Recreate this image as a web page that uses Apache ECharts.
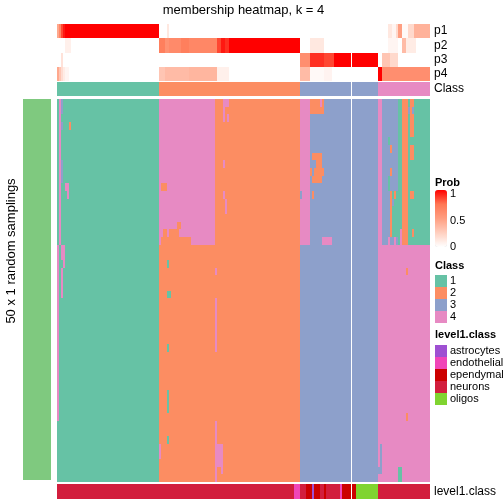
<!DOCTYPE html>
<html><head><meta charset="utf-8">
<script src="https://cdn.jsdelivr.net/npm/echarts@6/dist/echarts.min.js"></script>
<style>html,body{margin:0;padding:0;background:#fff}#c{width:504px;height:504px}</style>
</head><body><div id="c"></div>
<script>
// ---------------- data ----------------
const nCols = 186;          // samples (columns)
const nRows = 50;           // random samplings (rows)
const trackNames = ['p1', 'p2', 'p3', 'p4'];
const classNames = ['1', '2', '3', '4'];
const classColors = ['#66C2A5', '#FC8D62', '#8DA0CB', '#E78AC3'];
const levelNames = ['astrocytes', 'endothelial', 'ependymal', 'neurons', 'oligos'];
const levelColors = ['#9E50D2', '#F045B8', '#CC0000', '#D21E3D', '#80D430'];
const sideColor = '#7FC97F';
const sideLabel = 'top 946 rows';
const rowTitle = '50 x 1 random samplings';
const mainTitle = 'membership heatmap, k = 4';
const probTicks = [0, 0.5, 1];

// consensus class per column, as runs [class, count]
const classRuns = [[1, 51], [2, 70], [3, 39], [4, 26]];
// level1.class per column, as runs [levelIndex, count]
const levelRuns = [[3, 118], [1, 3], [3, 3], [2, 3], [0, 1], [2, 3], [3, 2], [2, 1], [3, 7], [1, 1], [2, 7], [4, 11], [3, 26]];
// membership probabilities per column, as runs [value, count]
const p1Runs = [[0.45, 1], [0.65, 1], [0.85, 1], [0.95, 1], [1, 47],
  [0, 4], [0.12, 1], [0, 65],
  [0, 39],
  [0, 5], [0.12, 2], [0.05, 2], [0.2, 1], [0.5, 2], [0.03, 3], [0.2, 3], [0.4, 8]];
const p2Runs = [[0, 4], [0.08, 3], [0, 44],
  [0.7, 3], [0.58, 2], [0.63, 6], [0.7, 4], [0.65, 14], [0.85, 2], [0.95, 2], [0.9, 2], [1, 35],
  [0, 5], [0.12, 7], [0, 27],
  [0, 5], [0.05, 5], [0, 2], [0.35, 2], [0.1, 5], [0, 7]];
const p3Runs = [[0, 2], [0.15, 1], [0, 48],
  [0, 70],
  [0.6, 5], [0.9, 7], [0.85, 5], [1, 22],
  [0, 2], [0.3, 4], [0.2, 4], [0, 16]];
const p4Runs = [[0.45, 1], [0.3, 1], [0.18, 1], [0.1, 1], [0.05, 2], [0, 45],
  [0.3, 3], [0.35, 12], [0.38, 14], [0.08, 6], [0, 35],
  [0.35, 5], [0.03, 7], [0.06, 4], [0, 23],
  [1, 2], [0.6, 24]];
// per-sampling class assignments that differ from the consensus:
// [firstCol, lastCol, firstRow, lastRow, class]
const mainBlocks = [
  [1, 1, 0, 18, 4], [2, 2, 0, 1, 3], [2, 2, 3, 3, 3], [2, 2, 8, 10, 3], [6, 6, 3, 3, 2], [4, 5, 11, 11, 4], [5, 5, 12, 12, 4],
  [0, 0, 19, 41, 4], [2, 3, 19, 20, 4], [3, 3, 21, 21, 4], [2, 2, 22, 25, 4],
  [51, 78, 0, 18, 4], [52, 54, 11, 11, 2], [60, 61, 16, 16, 2], [53, 54, 17, 17, 2], [56, 60, 17, 17, 2], [52, 66, 18, 18, 2],
  [83, 85, 0, 0, 4], [83, 83, 1, 2, 4], [85, 85, 2, 2, 4], [83, 83, 8, 8, 4], [83, 83, 12, 12, 4], [84, 84, 13, 14, 4], [79, 79, 22, 22, 4],
  [55, 55, 21, 21, 1], [55, 56, 25, 25, 1], [55, 55, 32, 32, 1], [55, 55, 38, 40, 1], [55, 55, 44, 44, 1],
  [79, 79, 26, 32, 4], [79, 79, 42, 49, 4], [79, 82, 45, 47, 4], [82, 82, 48, 48, 4], [51, 51, 45, 46, 4],
  [121, 125, 0, 18, 4], [126, 132, 0, 1, 2], [131, 131, 0, 0, 4], [127, 131, 7, 7, 2], [129, 131, 8, 8, 2], [126, 126, 9, 9, 2],
  [128, 132, 9, 9, 2], [127, 131, 10, 10, 2], [127, 127, 12, 12, 2], [121, 121, 12, 12, 3], [132, 136, 18, 18, 4],
  [162, 169, 0, 18, 3], [170, 171, 0, 18, 1], [172, 174, 0, 18, 2], [175, 185, 0, 18, 1], [176, 177, 0, 7, 2], [176, 177, 5, 5, 1],
  [175, 175, 1, 1, 3], [177, 177, 1, 1, 3], [176, 177, 12, 12, 2], [177, 177, 17, 17, 2],
  [165, 165, 5, 5, 1], [166, 166, 6, 6, 2], [166, 166, 9, 9, 2], [165, 165, 10, 11, 1], [166, 166, 12, 17, 2], [167, 169, 12, 17, 1],
  [167, 167, 13, 13, 3], [168, 168, 12, 12, 2], [171, 171, 17, 18, 4], [168, 168, 18, 18, 4], [165, 165, 18, 18, 4],
  [174, 174, 22, 22, 2], [174, 174, 41, 41, 2], [161, 161, 45, 47, 3], [160, 161, 48, 48, 3], [170, 171, 48, 49, 1]
];
const gapAfterCol = 146;   // column slice gap inside class 3

// ---------------- build ----------------
function expandRuns(runs) { const out = []; runs.forEach(([v, n]) => { for (let i = 0; i < n; i++) out.push(v); }); return out; }
const colIdx = Array.from({ length: nCols }, (_, i) => i);
const rowIdx = Array.from({ length: nRows }, (_, i) => i);
const colClass = expandRuns(classRuns);
const colLevel = expandRuns(levelRuns);
const pVals = [p1Runs, p2Runs, p3Runs, p4Runs].map(expandRuns);

const probData = [];
pVals.forEach((arr, t) => arr.forEach((v, c) => probData.push([c, t, v])));
const classData = colClass.map((k, c) => [c, 0, k]);
const levelData = colLevel.map((k, c) => [c, 0, k]);
const cells = rowIdx.map(() => colClass.slice());
mainBlocks.forEach(([c0, c1, r0, r1, k]) => { for (let r = r0; r <= r1; r++) for (let c = c0; c <= c1; c++) cells[r][c] = k; });
const mainData = [];
cells.forEach((row, r) => row.forEach((k, c) => mainData.push([c, r, k])));

const FONT = 'Liberation Sans, Arial, Helvetica, sans-serif';
const hidden = { show: false };
function catX(gi, extra) { return Object.assign({ type: 'category', gridIndex: gi, data: colIdx, axisLine: hidden, axisTick: hidden, axisLabel: hidden, splitLine: hidden }, extra || {}); }
function catY(gi, data, showLbl) {
  return { type: 'category', gridIndex: gi, data: data, inverse: true, position: 'right', axisLine: hidden, axisTick: hidden, splitLine: hidden,
    axisLabel: { show: showLbl, interval: 0, color: '#000', fontSize: 12, fontFamily: FONT, margin: 4 } };
}
// snap to whole pixels consistently (normalise float noise first)
function snap(v) { return Math.round(Math.round(v * 1000) / 1000); }
// cell renderer: snaps cell edges to whole pixels so neighbouring cells meet without seams
function renderCell(params, api) {
  const p = api.coord([api.value(0), api.value(1)]);
  const s = api.size([1, 1]);
  const x0 = snap(p[0] - s[0] / 2), x1 = snap(p[0] + s[0] / 2);
  const y0 = snap(p[1] - s[1] / 2), y1 = snap(p[1] + s[1] / 2);
  return { type: 'rect', shape: { x: x0, y: y0, width: x1 - x0, height: y1 - y0 }, style: { fill: api.visual('color') } };
}
// white gap between column slices, drawn after the given column
function renderGap(params, api) {
  const cs = params.coordSys;
  const p = api.coord([api.value(0), 0]);
  const s = api.size([1, 1]);
  const x = Math.floor(p[0] + s[0] / 2);
  return { type: 'rect', shape: { x: x, y: cs.y, width: 1, height: cs.height }, style: { fill: '#fff' } };
}
function hm(xi, data) {
  return { type: 'custom', renderItem: renderCell, xAxisIndex: xi, yAxisIndex: xi, data: data, encode: { x: 0, y: 1 },
    silent: true, progressive: 0, animation: false, z: 2 };
}
function gap(xi) {
  return { type: 'custom', renderItem: renderGap, xAxisIndex: xi, yAxisIndex: xi, data: [[gapAfterCol, 0]], encode: { x: 0, y: 1 },
    silent: true, animation: false, z: 3 };
}

const option = {
  animation: false,
  textStyle: { fontFamily: FONT },
  title: [
    { text: 'Prob', left: 435, top: 177, padding: 0, textStyle: { fontSize: 11, fontWeight: 'bold', color: '#000', fontFamily: FONT } },
    { text: 'Class', left: 435, top: 260, padding: 0, textStyle: { fontSize: 11, fontWeight: 'bold', color: '#000', fontFamily: FONT } },
    { text: 'level1.class', left: 435, top: 329, padding: 0, textStyle: { fontSize: 11, fontWeight: 'bold', color: '#000', fontFamily: FONT } }
  ],
  grid: [
    { left: 57, top: 24, width: 373, height: 57 },
    { left: 57, top: 82, width: 373, height: 14 },
    { left: 57, top: 99, width: 373, height: 383 },
    { left: 57, top: 484, width: 373, height: 15 },
    { left: 23, top: 99, width: 28, height: 381 },
    { left: 435, top: 194, width: 12, height: 53 }
  ],
  xAxis: [
    catX(0, { position: 'top', name: mainTitle, nameLocation: 'middle', nameGap: 7, nameTextStyle: { fontSize: 13, color: '#000', fontFamily: FONT } }),
    catX(1), catX(2), catX(3),
    { type: 'category', gridIndex: 4, data: [0], show: false },
    { type: 'value', gridIndex: 5, show: false, min: 0, max: 1 }
  ],
  yAxis: [
    catY(0, trackNames, true),
    catY(1, ['Class'], true),
    catY(2, rowIdx, false),
    catY(3, ['level1.class'], true),
    { type: 'category', gridIndex: 4, data: [0], show: false },
    { type: 'value', gridIndex: 5, position: 'right', min: probTicks[0], max: probTicks[2], interval: probTicks[1],
      axisLine: hidden, axisTick: hidden, splitLine: hidden,
      axisLabel: { color: '#000', fontSize: 11, fontFamily: FONT, margin: 3 } }
  ],
  visualMap: [
    { type: 'continuous', seriesIndex: 0, dimension: 2, min: 0, max: 1, show: true, calculable: false, left: 435, top: 190, padding: 0,
      itemWidth: 12, itemHeight: 57, text: null, hoverLink: false,
      inRange: { color: ['#FFFFFF', '#FFCFBF', '#FF9E81', '#FF7754', '#FF0000'] } },
    { type: 'piecewise', seriesIndex: [1, 2], dimension: 2, show: true, left: 435, top: 275, padding: 0, orient: 'vertical', inverse: true, align: 'left',
      itemWidth: 12, itemHeight: 12, itemGap: 0, itemSymbol: 'rect', textGap: 3, selectedMode: false, hoverLink: false,
      textStyle: { fontSize: 11, color: '#000', fontFamily: FONT },
      pieces: classNames.map((n, i) => ({ value: i + 1, label: n, color: classColors[i] })) },
    { type: 'piecewise', seriesIndex: [3], dimension: 2, show: true, left: 435, top: 345, padding: 0, orient: 'vertical', inverse: true, align: 'left',
      itemWidth: 12, itemHeight: 12, itemGap: 0, itemSymbol: 'rect', textGap: 3, selectedMode: false, hoverLink: false,
      textStyle: { fontSize: 11, color: '#000', fontFamily: FONT },
      pieces: levelNames.map((n, i) => ({ value: i, label: n, color: levelColors[i] })) },
    { type: 'piecewise', seriesIndex: [4], dimension: 2, show: false, pieces: [{ value: 1, color: sideColor }] }
  ],
  graphic: [
    { type: 'text', x: 11, y: 251, rotation: Math.PI / 2, silent: true,
      style: { text: rowTitle, fontSize: 13, fontFamily: FONT, fill: '#000', align: 'center', verticalAlign: 'middle' } },
    { type: 'text', x: 37, y: 290, rotation: -Math.PI / 2, silent: true,
      style: { text: sideLabel, fontSize: 10, fontFamily: FONT, fill: '#000', align: 'center', verticalAlign: 'middle' } }
  ],
  series: [
    hm(0, probData),
    hm(1, classData),
    hm(2, mainData),
    hm(3, levelData),
    hm(4, [[0, 0, 1]]),
    gap(0), gap(1), gap(2), gap(3)
  ]
};
const chart = echarts.init(document.getElementById('c'), null, { renderer: 'canvas' });
chart.setOption(option);
</script>
</body></html>
